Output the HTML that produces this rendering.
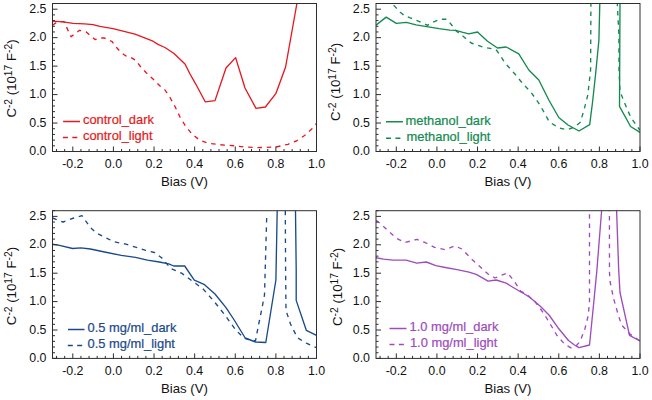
<!DOCTYPE html><html><head><meta charset="utf-8"><style>html,body{margin:0;padding:0;background:#fff;overflow:hidden;width:652px;height:400px;}svg{display:block;}text{font-family:"Liberation Sans",sans-serif;}text.lg{stroke:currentColor;stroke-width:0.22px;}</style></head><body>
<svg width="652" height="400" viewBox="0 0 652 400">
<defs>
<clipPath id="cTL"><rect x="52.5" y="3.5" width="264.0" height="148.0"/></clipPath>
<clipPath id="cTR"><rect x="376.0" y="3.5" width="264.0" height="148.0"/></clipPath>
<clipPath id="cBL"><rect x="52.5" y="210.7" width="264.0" height="147.7"/></clipPath>
<clipPath id="cBR"><rect x="376.0" y="210.7" width="264.0" height="147.7"/></clipPath>
</defs>
<g clip-path="url(#cTL)" fill="none" stroke="#e61920" stroke-width="1.35" stroke-linejoin="round">
<polyline points="52.5,21.2 63.0,21.9 73.0,23.3 84.5,23.9 93.0,24.7 100.0,26.4 113.0,28.6 128.0,32.4 135.0,34.2 144.0,37.6 153.0,41.2 158.0,44.4 165.0,47.5 174.0,53.5 185.0,64.0 190.0,74.0 195.6,83.8 205.2,101.8 215.0,100.6 226.0,68.0 235.6,57.6 245.0,88.0 256.0,108.4 265.4,107.0 276.0,93.3 285.6,67.0 296.9,3.5"/>
<polyline points="52.5,25.2 57.5,21.8 64.0,21.6 71.0,36.8 79.5,30.3 86.0,31.8 95.0,39.6 99.0,38.2 104.0,37.8 112.0,41.5 117.0,48.0 121.0,52.5 126.0,56.0 131.0,57.5 136.0,60.5 140.0,66.0 146.0,72.5 153.0,79.0 160.0,86.0 165.0,90.0 170.0,97.5 175.0,106.5 180.0,117.0 185.5,126.0 192.0,134.0 199.7,140.2 208.0,143.2 220.0,144.7 235.0,145.8 244.0,147.0 257.6,147.6 276.0,147.0 288.0,144.3 296.3,141.0 304.6,135.5 311.5,129.3 316.5,123.5" stroke-dasharray="4.5,4.8"/>
</g>
<rect x="52.5" y="3.5" width="264.0" height="148.0" fill="none" stroke="#2e2e2e" stroke-width="1"/>
<path d="M56.56,151.5v-2.5M64.68,151.5v-2.5M72.81,151.5v-5M80.93,151.5v-2.5M89.05,151.5v-2.5M97.18,151.5v-2.5M105.30,151.5v-2.5M113.42,151.5v-5M121.55,151.5v-2.5M129.67,151.5v-2.5M137.79,151.5v-2.5M145.92,151.5v-2.5M154.04,151.5v-5M162.16,151.5v-2.5M170.28,151.5v-2.5M178.41,151.5v-2.5M186.53,151.5v-2.5M194.65,151.5v-5M202.78,151.5v-2.5M210.90,151.5v-2.5M219.02,151.5v-2.5M227.15,151.5v-2.5M235.27,151.5v-5M243.39,151.5v-2.5M251.52,151.5v-2.5M259.64,151.5v-2.5M267.76,151.5v-2.5M275.88,151.5v-5M284.01,151.5v-2.5M292.13,151.5v-2.5M300.25,151.5v-2.5M308.38,151.5v-2.5M316.50,151.5v-5M52.5,151.50h5M52.5,145.81h2.5M52.5,140.12h2.5M52.5,134.42h2.5M52.5,128.73h2.5M52.5,123.04h5M52.5,117.35h2.5M52.5,111.65h2.5M52.5,105.96h2.5M52.5,100.27h2.5M52.5,94.58h5M52.5,88.88h2.5M52.5,83.19h2.5M52.5,77.50h2.5M52.5,71.81h2.5M52.5,66.12h5M52.5,60.42h2.5M52.5,54.73h2.5M52.5,49.04h2.5M52.5,43.35h2.5M52.5,37.65h5M52.5,31.96h2.5M52.5,26.27h2.5M52.5,20.58h2.5M52.5,14.88h2.5M52.5,9.19h5M52.5,3.50h2.5" stroke="#2e2e2e" stroke-width="1" fill="none"/>
<text x="72.81" y="168.10" font-size="12.4" text-anchor="middle" fill="#111" color="#111">-0.2</text>
<text x="113.42" y="168.10" font-size="12.4" text-anchor="middle" fill="#111" color="#111">0.0</text>
<text x="154.04" y="168.10" font-size="12.4" text-anchor="middle" fill="#111" color="#111">0.2</text>
<text x="194.65" y="168.10" font-size="12.4" text-anchor="middle" fill="#111" color="#111">0.4</text>
<text x="235.27" y="168.10" font-size="12.4" text-anchor="middle" fill="#111" color="#111">0.6</text>
<text x="275.88" y="168.10" font-size="12.4" text-anchor="middle" fill="#111" color="#111">0.8</text>
<text x="316.50" y="168.10" font-size="12.4" text-anchor="middle" fill="#111" color="#111">1.0</text>
<text x="46.50" y="155.10" font-size="12.4" text-anchor="end" fill="#111" color="#111">0.0</text>
<text x="46.50" y="126.64" font-size="12.4" text-anchor="end" fill="#111" color="#111">0.5</text>
<text x="46.50" y="98.18" font-size="12.4" text-anchor="end" fill="#111" color="#111">1.0</text>
<text x="46.50" y="69.72" font-size="12.4" text-anchor="end" fill="#111" color="#111">1.5</text>
<text x="46.50" y="41.25" font-size="12.4" text-anchor="end" fill="#111" color="#111">2.0</text>
<text x="46.50" y="12.79" font-size="12.4" text-anchor="end" fill="#111" color="#111">2.5</text>
<text x="184.50" y="185.70" font-size="13.2" text-anchor="middle" fill="#111" color="#111">Bias (V)</text>
<text transform="translate(15.50,78.50) rotate(-90)" font-size="13.2" text-anchor="middle" fill="#111" color="#111">C<tspan font-size="10.3" dy="-4">-2</tspan><tspan dy="4"> (10</tspan><tspan font-size="10.3" dy="-4">17</tspan><tspan dy="4"> F</tspan><tspan font-size="10.3" dy="-4">-2</tspan><tspan dy="4">)</tspan></text>
<path d="M63.1,121.5H80.0" stroke="#e61920" stroke-width="1.5"/>
<text class="lg" x="83.0" y="123.90" font-size="12.9" fill="#e61920" color="#e61920">control_dark</text>
<path d="M62.9,137.4H80.0" stroke="#e61920" stroke-width="1.5" stroke-dasharray="5,4.4"/>
<text class="lg" x="83.0" y="139.80" font-size="12.9" fill="#e61920" color="#e61920">control_light</text>
<g clip-path="url(#cTR)" fill="none" stroke="#138a4f" stroke-width="1.35" stroke-linejoin="round">
<polyline points="376.0,25.2 386.2,17.1 396.3,23.4 406.4,22.3 416.0,24.9 428.3,26.8 439.0,28.7 449.8,30.2 455.9,30.4 462.0,32.2 468.8,33.8 477.5,32.0 487.5,41.2 497.5,48.0 506.2,47.0 518.8,53.8 528.8,70.0 538.8,80.0 548.8,100.0 558.8,117.5 568.0,125.0 579.0,131.0 589.7,124.6 592.5,102.5 595.5,75.0 598.9,40.3 599.8,3.5 599.9,-20.0 620.0,-20.0 620.0,3.5 619.5,106.3 630.6,126.5 640.0,132.4"/>
<polyline points="388.0,-2.0 391.5,3.5 395.0,6.6 400.2,12.2 404.6,15.7 410.3,17.9 413.8,19.1 422.0,22.7 427.5,25.3 432.9,22.2 440.5,19.2 446.7,19.2 451.3,24.5 455.9,30.7 462.0,35.3 471.2,43.0 483.0,47.0 496.0,49.6 500.0,55.0 505.0,63.0 514.0,73.0 524.0,85.0 531.2,92.5 540.0,105.0 549.4,122.0 558.8,127.8 567.2,129.7 574.7,126.9 580.3,122.2 584.0,110.0 587.8,95.0 590.6,70.0 590.9,3.5 591.0,-20.0 617.0,-20.0 617.3,3.5 618.9,35.0 619.0,70.0 620.0,91.0 623.5,100.4 630.6,117.0 639.0,129.0 640.0,130.0" stroke-dasharray="4.5,4.8"/>
</g>
<rect x="376.0" y="3.5" width="264.0" height="148.0" fill="none" stroke="#2e2e2e" stroke-width="1"/>
<path d="M380.06,151.5v-2.5M388.18,151.5v-2.5M396.31,151.5v-5M404.43,151.5v-2.5M412.55,151.5v-2.5M420.68,151.5v-2.5M428.80,151.5v-2.5M436.92,151.5v-5M445.05,151.5v-2.5M453.17,151.5v-2.5M461.29,151.5v-2.5M469.42,151.5v-2.5M477.54,151.5v-5M485.66,151.5v-2.5M493.78,151.5v-2.5M501.91,151.5v-2.5M510.03,151.5v-2.5M518.15,151.5v-5M526.28,151.5v-2.5M534.40,151.5v-2.5M542.52,151.5v-2.5M550.65,151.5v-2.5M558.77,151.5v-5M566.89,151.5v-2.5M575.02,151.5v-2.5M583.14,151.5v-2.5M591.26,151.5v-2.5M599.38,151.5v-5M607.51,151.5v-2.5M615.63,151.5v-2.5M623.75,151.5v-2.5M631.88,151.5v-2.5M640.00,151.5v-5M376.0,151.50h5M376.0,145.81h2.5M376.0,140.12h2.5M376.0,134.42h2.5M376.0,128.73h2.5M376.0,123.04h5M376.0,117.35h2.5M376.0,111.65h2.5M376.0,105.96h2.5M376.0,100.27h2.5M376.0,94.58h5M376.0,88.88h2.5M376.0,83.19h2.5M376.0,77.50h2.5M376.0,71.81h2.5M376.0,66.12h5M376.0,60.42h2.5M376.0,54.73h2.5M376.0,49.04h2.5M376.0,43.35h2.5M376.0,37.65h5M376.0,31.96h2.5M376.0,26.27h2.5M376.0,20.58h2.5M376.0,14.88h2.5M376.0,9.19h5M376.0,3.50h2.5" stroke="#2e2e2e" stroke-width="1" fill="none"/>
<text x="396.31" y="168.10" font-size="12.4" text-anchor="middle" fill="#111" color="#111">-0.2</text>
<text x="436.92" y="168.10" font-size="12.4" text-anchor="middle" fill="#111" color="#111">0.0</text>
<text x="477.54" y="168.10" font-size="12.4" text-anchor="middle" fill="#111" color="#111">0.2</text>
<text x="518.15" y="168.10" font-size="12.4" text-anchor="middle" fill="#111" color="#111">0.4</text>
<text x="558.77" y="168.10" font-size="12.4" text-anchor="middle" fill="#111" color="#111">0.6</text>
<text x="599.38" y="168.10" font-size="12.4" text-anchor="middle" fill="#111" color="#111">0.8</text>
<text x="640.00" y="168.10" font-size="12.4" text-anchor="middle" fill="#111" color="#111">1.0</text>
<text x="370.00" y="155.10" font-size="12.4" text-anchor="end" fill="#111" color="#111">0.0</text>
<text x="370.00" y="126.64" font-size="12.4" text-anchor="end" fill="#111" color="#111">0.5</text>
<text x="370.00" y="98.18" font-size="12.4" text-anchor="end" fill="#111" color="#111">1.0</text>
<text x="370.00" y="69.72" font-size="12.4" text-anchor="end" fill="#111" color="#111">1.5</text>
<text x="370.00" y="41.25" font-size="12.4" text-anchor="end" fill="#111" color="#111">2.0</text>
<text x="370.00" y="12.79" font-size="12.4" text-anchor="end" fill="#111" color="#111">2.5</text>
<text x="508.00" y="185.70" font-size="13.2" text-anchor="middle" fill="#111" color="#111">Bias (V)</text>
<text transform="translate(340.30,82.00) rotate(-90)" font-size="13.2" text-anchor="middle" fill="#111" color="#111">C<tspan font-size="10.3" dy="-4">-2</tspan><tspan dy="4"> (10</tspan><tspan font-size="10.3" dy="-4">17</tspan><tspan dy="4"> F</tspan><tspan font-size="10.3" dy="-4">-2</tspan><tspan dy="4">)</tspan></text>
<path d="M386.0,121.75H402.9" stroke="#138a4f" stroke-width="1.5"/>
<text class="lg" x="405.5" y="124.95" font-size="12.9" fill="#138a4f" color="#138a4f">methanol_dark</text>
<path d="M386.0,138.25H402.9" stroke="#138a4f" stroke-width="1.5" stroke-dasharray="5,4.4"/>
<text class="lg" x="406.6" y="141.45" font-size="12.9" fill="#138a4f" color="#138a4f">methanol_light</text>
<g clip-path="url(#cBL)" fill="none" stroke="#1a4a8c" stroke-width="1.35" stroke-linejoin="round">
<polyline points="52.5,244.2 59.5,245.4 72.6,248.5 80.9,247.8 90.4,249.0 104.6,252.0 121.3,255.4 135.5,257.3 147.4,260.1 159.3,262.0 168.8,263.9 173.7,266.0 184.7,266.0 194.3,280.2 204.0,284.3 215.0,294.0 226.0,307.7 234.2,320.0 245.2,338.0 255.6,342.0 265.8,342.5 275.9,280.0 277.2,210.7 277.3,190.0 295.0,190.0 295.5,210.7 296.2,270.0 296.2,300.4 306.3,330.3 316.5,335.3"/>
<polyline points="52.5,218.0 63.0,222.0 73.8,218.0 82.0,215.7 90.4,227.6 96.3,233.0 107.0,238.3 114.1,241.8 126.0,244.2 137.9,247.8 145.0,250.1 154.5,252.5 161.6,257.7 171.0,268.7 182.0,273.4 193.0,281.6 202.6,288.5 213.6,300.8 224.6,314.6 235.5,329.7 243.8,338.0 249.0,339.6 255.5,340.8 258.7,324.0 261.0,313.0 264.5,295.0 266.7,217.0" stroke-dasharray="4.5,4.8"/>
<polyline points="285.3,210.7 285.6,270.0 286.0,310.5 290.5,324.0 297.3,337.6 306.3,343.2 316.5,347.7" stroke-dasharray="4.5,4.8"/>
</g>
<rect x="52.5" y="210.7" width="264.0" height="147.7" fill="none" stroke="#2e2e2e" stroke-width="1"/>
<path d="M56.56,358.4v-2.5M64.68,358.4v-2.5M72.81,358.4v-5M80.93,358.4v-2.5M89.05,358.4v-2.5M97.18,358.4v-2.5M105.30,358.4v-2.5M113.42,358.4v-5M121.55,358.4v-2.5M129.67,358.4v-2.5M137.79,358.4v-2.5M145.92,358.4v-2.5M154.04,358.4v-5M162.16,358.4v-2.5M170.28,358.4v-2.5M178.41,358.4v-2.5M186.53,358.4v-2.5M194.65,358.4v-5M202.78,358.4v-2.5M210.90,358.4v-2.5M219.02,358.4v-2.5M227.15,358.4v-2.5M235.27,358.4v-5M243.39,358.4v-2.5M251.52,358.4v-2.5M259.64,358.4v-2.5M267.76,358.4v-2.5M275.88,358.4v-5M284.01,358.4v-2.5M292.13,358.4v-2.5M300.25,358.4v-2.5M308.38,358.4v-2.5M316.50,358.4v-5M52.5,358.40h5M52.5,352.72h2.5M52.5,347.04h2.5M52.5,341.36h2.5M52.5,335.68h2.5M52.5,330.00h5M52.5,324.32h2.5M52.5,318.63h2.5M52.5,312.95h2.5M52.5,307.27h2.5M52.5,301.59h5M52.5,295.91h2.5M52.5,290.23h2.5M52.5,284.55h2.5M52.5,278.87h2.5M52.5,273.19h5M52.5,267.51h2.5M52.5,261.83h2.5M52.5,256.15h2.5M52.5,250.47h2.5M52.5,244.78h5M52.5,239.10h2.5M52.5,233.42h2.5M52.5,227.74h2.5M52.5,222.06h2.5M52.5,216.38h5M52.5,210.70h2.5" stroke="#2e2e2e" stroke-width="1" fill="none"/>
<text x="72.81" y="375.00" font-size="12.4" text-anchor="middle" fill="#111" color="#111">-0.2</text>
<text x="113.42" y="375.00" font-size="12.4" text-anchor="middle" fill="#111" color="#111">0.0</text>
<text x="154.04" y="375.00" font-size="12.4" text-anchor="middle" fill="#111" color="#111">0.2</text>
<text x="194.65" y="375.00" font-size="12.4" text-anchor="middle" fill="#111" color="#111">0.4</text>
<text x="235.27" y="375.00" font-size="12.4" text-anchor="middle" fill="#111" color="#111">0.6</text>
<text x="275.88" y="375.00" font-size="12.4" text-anchor="middle" fill="#111" color="#111">0.8</text>
<text x="316.50" y="375.00" font-size="12.4" text-anchor="middle" fill="#111" color="#111">1.0</text>
<text x="46.50" y="362.00" font-size="12.4" text-anchor="end" fill="#111" color="#111">0.0</text>
<text x="46.50" y="333.60" font-size="12.4" text-anchor="end" fill="#111" color="#111">0.5</text>
<text x="46.50" y="305.19" font-size="12.4" text-anchor="end" fill="#111" color="#111">1.0</text>
<text x="46.50" y="276.79" font-size="12.4" text-anchor="end" fill="#111" color="#111">1.5</text>
<text x="46.50" y="248.38" font-size="12.4" text-anchor="end" fill="#111" color="#111">2.0</text>
<text x="46.50" y="219.98" font-size="12.4" text-anchor="end" fill="#111" color="#111">2.5</text>
<text x="184.50" y="392.60" font-size="13.2" text-anchor="middle" fill="#111" color="#111">Bias (V)</text>
<text transform="translate(15.50,286.05) rotate(-90)" font-size="13.2" text-anchor="middle" fill="#111" color="#111">C<tspan font-size="10.3" dy="-4">-2</tspan><tspan dy="4"> (10</tspan><tspan font-size="10.3" dy="-4">17</tspan><tspan dy="4"> F</tspan><tspan font-size="10.3" dy="-4">-2</tspan><tspan dy="4">)</tspan></text>
<path d="M68.0,329.5H84.5" stroke="#1a4a8c" stroke-width="1.5"/>
<text class="lg" x="87.5" y="331.90" font-size="12.9" fill="#1a4a8c" color="#1a4a8c">0.5 mg/ml_dark</text>
<path d="M67.8,345.4H84.5" stroke="#1a4a8c" stroke-width="1.5" stroke-dasharray="5,4.4"/>
<text class="lg" x="87.5" y="347.80" font-size="12.9" fill="#1a4a8c" color="#1a4a8c">0.5 mg/ml_light</text>
<g clip-path="url(#cBR)" fill="none" stroke="#9e4cbd" stroke-width="1.35" stroke-linejoin="round">
<polyline points="376.0,257.7 383.5,259.2 393.0,260.1 406.0,260.1 416.8,263.2 426.3,262.0 435.8,265.6 445.3,267.5 457.1,269.6 469.0,272.2 476.2,274.4 488.1,281.2 496.2,280.0 506.2,283.1 511.2,286.2 517.5,290.0 522.5,292.8 530.0,297.5 540.0,306.0 549.0,315.0 558.0,327.7 568.5,340.5 574.5,345.0 579.0,347.7 589.5,345.0 594.0,300.0 596.9,270.0 601.6,210.7 603.0,190.0 616.0,190.0 616.6,210.7 618.7,270.0 620.0,292.5 629.5,335.3 640.0,341.0"/>
<polyline points="376.0,220.4 381.0,224.0 388.3,231.1 396.6,238.3 404.9,242.5 416.8,239.4 425.0,242.5 434.6,247.3 445.3,249.7 454.8,245.9 461.9,249.0 471.5,259.0 488.0,274.0 495.0,278.0 507.5,272.8 514.0,281.0 521.0,291.5 525.0,293.0 535.0,301.5 543.8,313.5 552.0,327.0 557.0,335.5 565.0,344.5 571.0,347.8 576.0,346.0 580.0,341.5 585.0,328.5 588.0,316.5 589.5,303.0 589.5,210.7 589.6,190.0 609.4,190.0 609.5,273.4 610.4,283.5 613.8,299.3 618.3,315.0 621.7,325.2 630.0,334.0 640.0,341.0" stroke-dasharray="4.5,4.8"/>
</g>
<rect x="376.0" y="210.7" width="264.0" height="147.7" fill="none" stroke="#2e2e2e" stroke-width="1"/>
<path d="M380.06,358.4v-2.5M388.18,358.4v-2.5M396.31,358.4v-5M404.43,358.4v-2.5M412.55,358.4v-2.5M420.68,358.4v-2.5M428.80,358.4v-2.5M436.92,358.4v-5M445.05,358.4v-2.5M453.17,358.4v-2.5M461.29,358.4v-2.5M469.42,358.4v-2.5M477.54,358.4v-5M485.66,358.4v-2.5M493.78,358.4v-2.5M501.91,358.4v-2.5M510.03,358.4v-2.5M518.15,358.4v-5M526.28,358.4v-2.5M534.40,358.4v-2.5M542.52,358.4v-2.5M550.65,358.4v-2.5M558.77,358.4v-5M566.89,358.4v-2.5M575.02,358.4v-2.5M583.14,358.4v-2.5M591.26,358.4v-2.5M599.38,358.4v-5M607.51,358.4v-2.5M615.63,358.4v-2.5M623.75,358.4v-2.5M631.88,358.4v-2.5M640.00,358.4v-5M376.0,358.40h5M376.0,352.72h2.5M376.0,347.04h2.5M376.0,341.36h2.5M376.0,335.68h2.5M376.0,330.00h5M376.0,324.32h2.5M376.0,318.63h2.5M376.0,312.95h2.5M376.0,307.27h2.5M376.0,301.59h5M376.0,295.91h2.5M376.0,290.23h2.5M376.0,284.55h2.5M376.0,278.87h2.5M376.0,273.19h5M376.0,267.51h2.5M376.0,261.83h2.5M376.0,256.15h2.5M376.0,250.47h2.5M376.0,244.78h5M376.0,239.10h2.5M376.0,233.42h2.5M376.0,227.74h2.5M376.0,222.06h2.5M376.0,216.38h5M376.0,210.70h2.5" stroke="#2e2e2e" stroke-width="1" fill="none"/>
<text x="396.31" y="375.00" font-size="12.4" text-anchor="middle" fill="#111" color="#111">-0.2</text>
<text x="436.92" y="375.00" font-size="12.4" text-anchor="middle" fill="#111" color="#111">0.0</text>
<text x="477.54" y="375.00" font-size="12.4" text-anchor="middle" fill="#111" color="#111">0.2</text>
<text x="518.15" y="375.00" font-size="12.4" text-anchor="middle" fill="#111" color="#111">0.4</text>
<text x="558.77" y="375.00" font-size="12.4" text-anchor="middle" fill="#111" color="#111">0.6</text>
<text x="599.38" y="375.00" font-size="12.4" text-anchor="middle" fill="#111" color="#111">0.8</text>
<text x="640.00" y="375.00" font-size="12.4" text-anchor="middle" fill="#111" color="#111">1.0</text>
<text x="370.00" y="362.00" font-size="12.4" text-anchor="end" fill="#111" color="#111">0.0</text>
<text x="370.00" y="333.60" font-size="12.4" text-anchor="end" fill="#111" color="#111">0.5</text>
<text x="370.00" y="305.19" font-size="12.4" text-anchor="end" fill="#111" color="#111">1.0</text>
<text x="370.00" y="276.79" font-size="12.4" text-anchor="end" fill="#111" color="#111">1.5</text>
<text x="370.00" y="248.38" font-size="12.4" text-anchor="end" fill="#111" color="#111">2.0</text>
<text x="370.00" y="219.98" font-size="12.4" text-anchor="end" fill="#111" color="#111">2.5</text>
<text x="508.00" y="392.60" font-size="13.2" text-anchor="middle" fill="#111" color="#111">Bias (V)</text>
<text transform="translate(342.10,286.85) rotate(-90)" font-size="13.2" text-anchor="middle" fill="#111" color="#111">C<tspan font-size="10.3" dy="-4">-2</tspan><tspan dy="4"> (10</tspan><tspan font-size="10.3" dy="-4">17</tspan><tspan dy="4"> F</tspan><tspan font-size="10.3" dy="-4">-2</tspan><tspan dy="4">)</tspan></text>
<path d="M389.5,328.5H406.5" stroke="#9e4cbd" stroke-width="1.5"/>
<text class="lg" x="409.5" y="330.90" font-size="12.9" fill="#9e4cbd" color="#9e4cbd">1.0 mg/ml_dark</text>
<path d="M389.5,344.5H406.5" stroke="#9e4cbd" stroke-width="1.5" stroke-dasharray="5,4.4"/>
<text class="lg" x="409.9" y="346.90" font-size="12.9" fill="#9e4cbd" color="#9e4cbd">1.0 mg/ml_light</text>
</svg></body></html>
